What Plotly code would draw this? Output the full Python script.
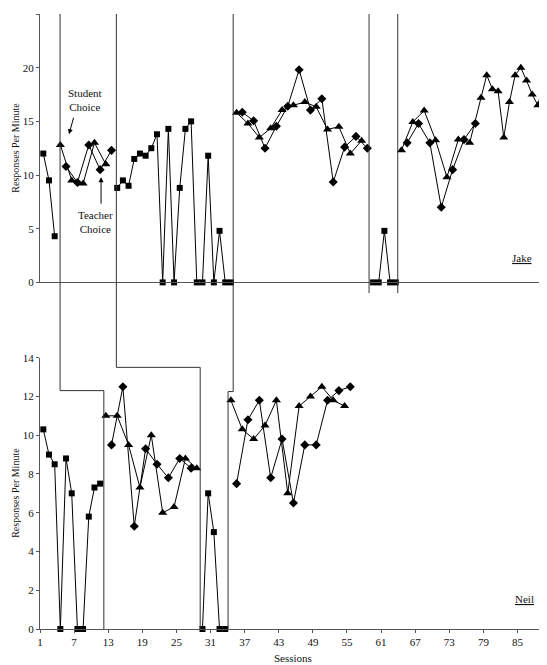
"""
Multiple-baseline chart: responses per minute for Jake and Neil
"""

import plotly.graph_objects as go

SERIF = "Liberation Serif"

# ---- Jake (top panel) ----
# baseline phases (squares)
jake_bl_sessions = [[1, 2, 3], list(range(14, 35)), list(range(59, 64))]
jake_bl_values = [
    [12.0, 9.5, 4.3],
    [8.8, 9.5, 9.0, 11.5, 12.0, 11.8, 12.5, 13.8, 0, 14.3, 0,
     8.8, 14.3, 15.0, 0, 0, 11.8, 0, 4.8, 0, 0],
    [0, 0, 4.8, 0, 0],
]
# student choice (triangles)
jake_sc_sessions = [
    [4, 6, 8, 10, 12],
    [35, 37, 39, 41, 43, 45, 47, 49, 51, 53, 55, 57],
    [64, 66, 68, 70, 72, 74, 76, 78, 79, 80, 81, 82, 83, 84, 85, 86, 87, 88, 89],
]
jake_sc_values = [
    [12.8, 9.5, 9.2, 13.0, 11.0],
    [15.8, 14.8, 13.5, 14.35, 16.05, 16.5, 16.8, 16.35, 14.25, 14.5, 12.0, 13.2],
    [12.3, 14.95, 16.0, 13.25, 9.8, 13.3, 13.0, 17.2, 19.3, 18.0, 17.8, 13.5,
     16.8, 19.3, 20.0, 18.8, 17.5, 16.5, 18.8],
]
# teacher choice (diamonds)
jake_tc_sessions = [
    [5, 7, 9, 11, 13],
    [36, 38, 40, 42, 44, 46, 48, 50, 52, 54, 56, 58],
    [65, 67, 69, 71, 73, 75, 77],
]
jake_tc_values = [
    [10.8, 9.3, 12.8, 10.5, 12.3],
    [15.85, 15.05, 12.5, 14.55, 16.4, 19.8, 16.05, 17.1, 9.35, 12.6, 13.6, 12.5],
    [13.0, 14.8, 13.0, 7.0, 10.5, 13.3, 14.8],
]

# ---- Neil (bottom panel) ----
neil_bl_sessions = [list(range(1, 12)), [29, 30, 31, 32, 33]]
neil_bl_values = [
    [10.3, 9.0, 8.5, 0, 8.8, 7.0, 0, 0, 5.8, 7.3, 7.5],
    [0, 7.0, 5.0, 0, 0],
]
neil_sc_sessions = [
    [12, 14, 16, 18, 20, 22, 24, 26, 28],
    [34, 36, 38, 40, 42, 44, 46, 48, 50, 52, 54],
]
neil_sc_values = [
    [11.0, 11.0, 9.5, 7.3, 10.0, 6.0, 6.3, 8.8, 8.3],
    [11.8, 10.3, 9.8, 10.5, 11.8, 7.0, 11.5, 12.0, 12.5, 11.8, 11.5],
]
neil_tc_sessions = [
    [13, 15, 17, 19, 21, 23, 25, 27],
    [35, 37, 39, 41, 43, 45, 47, 49, 51, 53, 55],
]
neil_tc_values = [
    [9.5, 12.5, 5.3, 9.3, 8.5, 7.8, 8.8, 8.3],
    [7.5, 10.8, 11.8, 7.8, 9.8, 6.5, 9.5, 9.5, 11.8, 12.3, 12.5],
]

# x tick labels
session_ticks = [1, 7, 13, 19, 25, 31, 37, 43, 49, 55, 61, 67, 73, 79, 85]

# page body has an 8px margin, so the figure is a bit smaller than the window
TOP_DOMAIN = [0.5636, 1.0]
BOT_DOMAIN = [0.0, 0.4412]
X_RANGE = [0.42, 89.25]
TICK_SHIFT = 0.58  # labels in the original sit a bit left of the data points


def top_paper(v):  # top panel value -> paper y
    return TOP_DOMAIN[0] + v / 25 * (TOP_DOMAIN[1] - TOP_DOMAIN[0])


def bot_paper(v):  # bottom panel value -> paper y
    return BOT_DOMAIN[0] + v / 14 * (BOT_DOMAIN[1] - BOT_DOMAIN[0])


fig = go.Figure()

markers = {
    "bl": dict(symbol="square", size=6),
    "sc": dict(symbol="triangle-up", size=8),
    "tc": dict(symbol="diamond", size=7),
}


def add_series(sessions, values, kind, xa, ya):
    for xs, ys in zip(sessions, values):
        fig.add_trace(
            go.Scatter(
                x=xs,
                y=ys,
                mode="lines+markers",
                line=dict(color="black", width=1),
                marker=dict(color="black", **markers[kind]),
                cliponaxis=False,
                showlegend=False,
                hoverinfo="skip",
                xaxis=xa,
                yaxis=ya,
            )
        )


add_series(jake_bl_sessions, jake_bl_values, "bl", "x", "y")
add_series(jake_sc_sessions, jake_sc_values, "sc", "x", "y")
add_series(jake_tc_sessions, jake_tc_values, "tc", "x", "y")
add_series(neil_bl_sessions, neil_bl_values, "bl", "x2", "y2")
add_series(neil_sc_sessions, neil_sc_values, "sc", "x2", "y2")
add_series(neil_tc_sessions, neil_tc_values, "tc", "x2", "y2")

# phase change lines (staircase across both panels)
phase_paths = [
    [(3.95, top_paper(25)), (3.95, bot_paper(12.3)), (11.65, bot_paper(12.3)), (11.65, bot_paper(0))],
    [(13.85, top_paper(25)), (13.85, bot_paper(13.5)), (28.6, bot_paper(13.5)), (28.6, bot_paper(0))],
    [(34.4, top_paper(25)), (34.4, bot_paper(12.25)), (33.5, bot_paper(12.25)), (33.5, bot_paper(0))],
    [(58.3, top_paper(25)), (58.3, top_paper(-1))],
    [(63.35, top_paper(25)), (63.35, top_paper(-1))],
]
for pts in phase_paths:
    path = "M " + " L ".join(f"{x},{y}" for x, y in pts)
    fig.add_shape(
        type="path", path=path, xref="x", yref="paper",
        line=dict(color="#333333", width=1),
    )

txt = dict(family=SERIF, size=11, color="#111111")

# phase labels
for label, x in [("BL", 2.35), ("Student<br>List", 9.6), ("BL", 23.8),
                 ("Teacher<br>List", 46.7), ("BL", 60.75), ("Student<br>List", 76.7)]:
    fig.add_annotation(x=x, y=25.2, xref="x", yref="y", text=label, showarrow=False,
                       yanchor="top", font=txt)

# condition labels with arrows
fig.add_annotation(x=8.35, y=17.0, xref="x", yref="y", text="Student<br>Choice",
                   showarrow=False, font=txt)
fig.add_annotation(x=5.52, y=13.8, xref="x", yref="y", text="", showarrow=True,
                   ax=5, ay=-18, arrowhead=2, arrowsize=1, arrowwidth=1, arrowcolor="black")
fig.add_annotation(x=10.1, y=5.6, xref="x", yref="y", text="Teacher<br>Choice",
                   showarrow=False, font=txt)
fig.add_annotation(x=11.16, y=9.8, xref="x", yref="y", text="", showarrow=True,
                   ax=0, ay=28, arrowhead=2, arrowsize=1, arrowwidth=1, arrowcolor="black")

# participant names
fig.add_annotation(x=85.2, y=2.3, xref="x", yref="y", text="<u>Jake</u>",
                   showarrow=False, font=txt)
fig.add_annotation(x=85.6, y=1.53, xref="x2", yref="y2", text="<u>Neil</u>",
                   showarrow=False, font=txt)

# axis titles
for yc in [(TOP_DOMAIN[0] + TOP_DOMAIN[1]) / 2, (BOT_DOMAIN[0] + BOT_DOMAIN[1]) / 2]:
    fig.add_annotation(x=-0.0485, y=yc, xref="paper", yref="paper",
                       text="Responses Per Minute", textangle=-90, showarrow=False,
                       xanchor="center", yanchor="middle", borderpad=0,
                       font=dict(family=SERIF, size=10, color="#111111"))
fig.add_annotation(x=0.5, y=-0.0467, xref="paper", yref="paper", text="Sessions",
                   showarrow=False, yanchor="middle", font=txt)

axis_common = dict(showline=True, linecolor="#555555", linewidth=1, showgrid=False,
                   zeroline=False, tickfont=txt)

fig.update_layout(
    width=539,
    height=657,
    margin=dict(l=32, r=2, t=0, b=36),
    paper_bgcolor="white",
    plot_bgcolor="white",
    font=dict(family=SERIF, color="#111111"),
    showlegend=False,
    xaxis=dict(range=X_RANGE, domain=[0, 1], anchor="y", showticklabels=False,
               ticks="", **axis_common),
    yaxis=dict(range=[0, 25], domain=TOP_DOMAIN, anchor="x", tickvals=[0, 5, 10, 15, 20, 25],
               ticks="outside", ticklen=3, tickcolor="#555555", **axis_common),
    xaxis2=dict(range=X_RANGE, domain=[0, 1], anchor="y2",
                tickvals=[t - TICK_SHIFT for t in session_ticks],
                ticktext=[str(t) for t in session_ticks],
                ticks="outside", ticklen=3, tickcolor="#555555", **axis_common),
    yaxis2=dict(range=[0, 14], domain=BOT_DOMAIN, anchor="x2",
                tickvals=[0, 2, 4, 6, 8, 10, 12, 14],
                ticks="outside", ticklen=3, tickcolor="#555555", **axis_common),
)

fig.write_html("out.html")
